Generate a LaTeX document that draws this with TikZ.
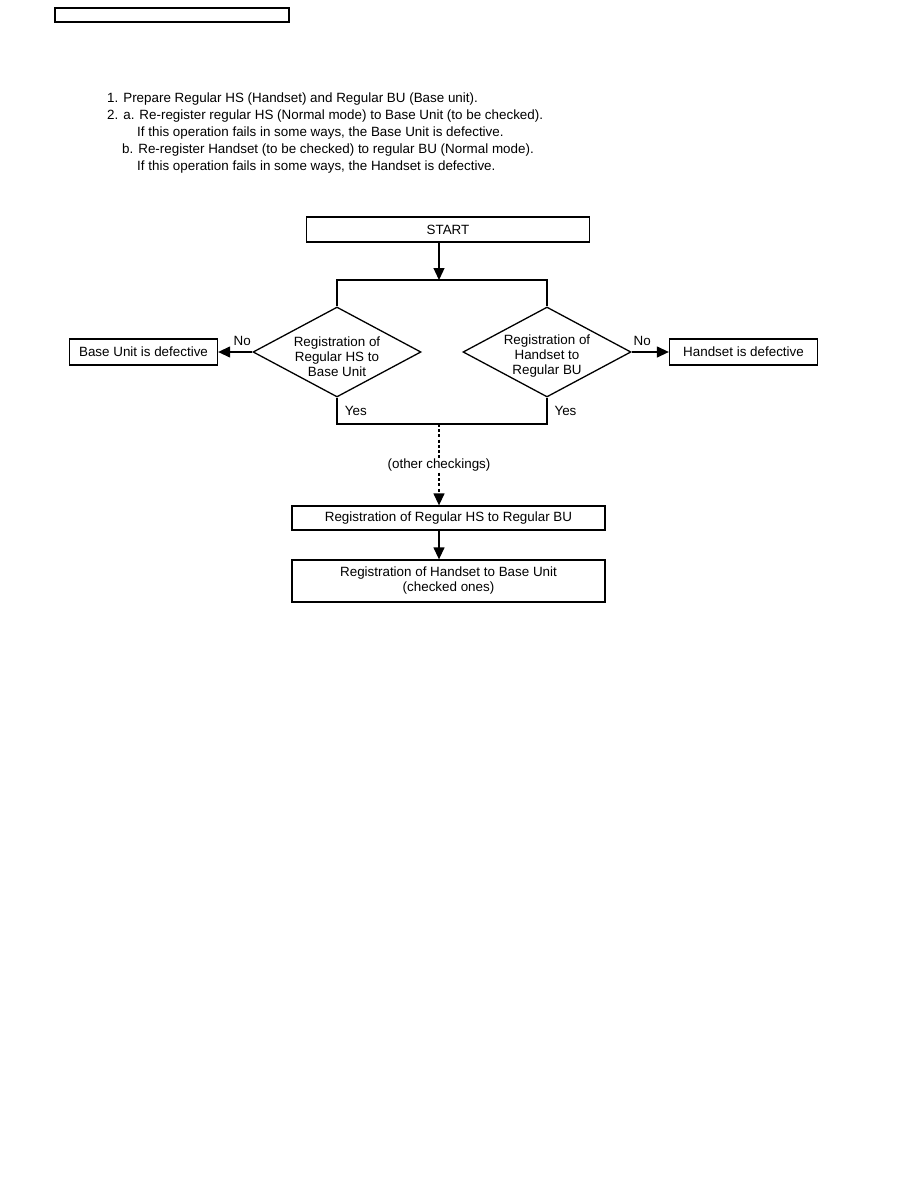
\documentclass[tikz,border=0pt]{standalone}
\usepackage{fontspec}
\setmainfont{Liberation Sans}
\usetikzlibrary{arrows.meta,shapes.geometric}
\begin{document}
\begin{tikzpicture}[x=1pt,y=-1pt,
  every node/.style={font=\fontsize{13.4}{15}\selectfont},
  ln/.style={line width=1.3pt},
  arr/.style={ln,-{Triangle[length=12pt,width=11pt]}},
  dots/.style={line width=1.3pt,dash pattern=on 3pt off 2.2pt},
  boxst/.style={draw,line width=1.3pt,inner sep=0pt,rectangle},
  dia/.style={draw,line width=1.3pt,diamond,inner sep=0pt,minimum width=168pt,minimum height=90pt},
  lst/.style={anchor=base west,inner sep=0pt}]
\useasboundingbox (0,0) rectangle (918,1188);
% header box
\node[boxst,minimum width=234pt,minimum height=14pt] (hdr) at (172,15) {};
% instructions
\node[lst] (l1) at (107,102.5) {1. Prepare Regular HS (Handset) and Regular BU (Base unit).};
\node[lst] (l2) at (107,119.8) {2. a. Re-register regular HS (Normal mode) to Base Unit (to be checked).};
\node[lst] (l3) at (137,136.3) {If this operation fails in some ways, the Base Unit is defective.};
\node[lst] (l4) at (122,153.2) {b. Re-register Handset (to be checked) to regular BU (Normal mode).};
\node[lst] (l5) at (137,170) {If this operation fails in some ways, the Handset is defective.};
% flowchart
\node[boxst,minimum width=283pt,minimum height=25pt] (start) at (448,229.5) {START};
\coordinate (split) at (439,280);
\node[dia] (dL) at (337,352) {};
\node[align=center,inner sep=0pt] (dLt) at (337,356.5) {Registration of\\Regular HS to\\Base Unit};
\node[dia] (dR) at (547,352) {};
\node[align=center,inner sep=0pt] (dRt) at (547,356.5) {Registration of\\Handset to\\Regular BU};
\node[boxst,minimum width=148pt,minimum height=26pt] (bad1) at (143.5,352) {Base Unit is defective};
\node[boxst,minimum width=148pt,minimum height=26pt] (bad2) at (743.5,352) {Handset is defective};
\coordinate (join) at (439,424);
\node[inner sep=1pt] (other) at (439,465.5) {(other checkings)};
\node[boxst,minimum width=313pt,minimum height=24pt] (box1) at (448.5,518) {Registration of Regular HS to Regular BU};
\node[boxst,minimum width=313pt,minimum height=42pt,align=center] (box2) at (448.5,581) {Registration of Handset to Base Unit\\(checked ones)};
% connectors
\draw[arr] (start.south -| split) -- (split);
\draw[ln] (dL.north) -- (dL.north |- split) -- (dR.north |- split) -- (dR.north);
\draw[arr] (dL.west) -- node[above,yshift=2pt,xshift=7pt] {No} (bad1.east);
\draw[arr] (dR.east) -- node[above,yshift=2pt,xshift=-8pt] {No} (bad2.west);
\draw[ln] (dL.south) -- node[right,xshift=4pt,pos=0.5] {Yes} (dL.south |- join) -- (dR.south |- join) -- (dR.south);
\path (dR.south) -- node[right,xshift=4pt] {Yes} (dR.south |- join);
\draw[dots] (join) -- (other.north);
\draw[dots,-{Triangle[length=12pt,width=11pt]}] (other.south) -- (box1.north -| join);
\draw[arr] (box1.south -| join) -- (box2.north -| join);
\end{tikzpicture}
\end{document}
